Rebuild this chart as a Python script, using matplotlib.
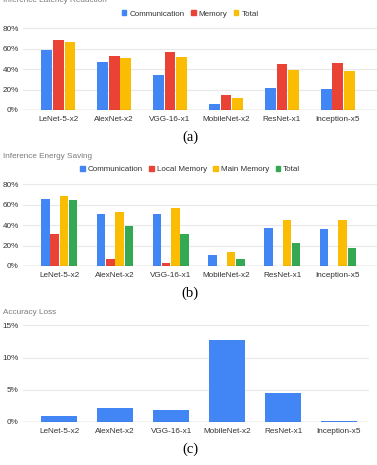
import matplotlib
matplotlib.use("Agg")
import matplotlib.pyplot as plt
import numpy as np

# ---------------------------------------------------------------------------
# Data
# ---------------------------------------------------------------------------
MODELS = ["LeNet-5-x2", "AlexNet-x2", "VGG-16-x1", "MobileNet-x2", "ResNet-x1", "Inception-x5"]

LAT_COMM = [59, 47, 34, 5.5, 21.5, 20.5]
LAT_MEM = [68.5, 52.5, 57, 14.5, 45.5, 46]
LAT_TOTAL = [67, 51, 51.5, 12, 39, 38]

EN_COMM = [66, 50.5, 50.5, 11, 37, 36]
EN_LOCAL = [31.5, 7, 3, 0, 0, 0.3]
EN_MAIN = [68.5, 52.5, 57, 13.5, 45, 45.5]
EN_TOTAL = [64.5, 39.5, 31.5, 7, 22.5, 17.5]

ACC_LOSS = [0.95, 2.1, 1.9, 12.7, 4.45, 0.08]

# ---------------------------------------------------------------------------
# Style
# ---------------------------------------------------------------------------
BLUE = "#4285F4"
RED = "#EA4335"
YELLOW = "#FBBC04"
GREEN = "#34A853"
GRID = "#e8e8e8"
TXT = "#333333"
TITLE_C = "#7a7a7a"
FONT = "Liberation Sans"
SERIF = "Liberation Serif"
TICK_FS = 5.9

W, H = 377, 465
fig = plt.figure(figsize=(W / 100, H / 100), dpi=100, facecolor="white")


def px_axes(left, top, right, bottom):
    return fig.add_axes([left / W, 1 - bottom / H, (right - left) / W, (bottom - top) / H])


def style_ax(ax, ymax, step, xlim):
    ax.set_xlim(*xlim)
    ax.set_ylim(0, ymax * 1.005)
    for s in ax.spines.values():
        s.set_visible(False)
    ticks = np.arange(0, ymax + 0.1, step)
    ax.set_yticks(ticks)
    ax.set_yticklabels([f"{int(t)}%" for t in ticks], fontsize=TICK_FS, color=TXT, family=FONT)
    for t in ticks[1:]:
        ax.axhline(t, color=GRID, lw=0.8, zorder=0, clip_on=False)
    ax.axhline(0, color="#333333", lw=0.8, zorder=5)
    ax.set_xticks(range(len(MODELS)))
    ax.set_xticklabels(MODELS, fontsize=TICK_FS, color=TXT, family=FONT)
    ax.tick_params(length=0, pad=4)
    ax.tick_params(axis="y", pad=3)


def bars(ax, series, colors, width):
    n = len(series)
    x = np.arange(len(MODELS))
    for i, (vals, c) in enumerate(zip(series, colors)):
        off = (i - (n - 1) / 2) * width
        ax.bar(x + off, vals, width=width * 0.92, color=c, zorder=3)


def legend(labels, colors, y):
    handles = [plt.Rectangle((0, 0), 1, 1, color=c) for c in colors]
    fig.legend(handles, labels, loc="center", bbox_to_anchor=(190 / W, 1 - y / H),
               ncol=len(labels), frameon=False, handlelength=0.6,
               handleheight=0.6, handletextpad=0.35, columnspacing=0.8,
               prop={"family": FONT, "size": 5.8}, labelcolor=TXT)


# (a) latency
ax_a = px_axes(23, 28, 377, 110)
bars(ax_a, [LAT_COMM, LAT_MEM, LAT_TOTAL], [BLUE, RED, YELLOW], 0.21)
style_ax(ax_a, 80, 20, (-0.63, 5.7))
legend(["Communication", "Memory", "Total"], [BLUE, RED, YELLOW], 14)
fig.text(3 / W, 1 - 0 / H, "Inference Latency Reduction", fontsize=TICK_FS, color=TITLE_C,
         family=FONT, va="center", ha="left")
fig.text(190 / W, 1 - 137 / H, "(a)", fontsize=10.5, family=SERIF, ha="center", va="center")

# (b) energy
ax_b = px_axes(23, 184, 377, 266)
bars(ax_b, [EN_COMM, EN_LOCAL, EN_MAIN, EN_TOTAL], [BLUE, RED, YELLOW, GREEN], 0.165)
style_ax(ax_b, 80, 20, (-0.65, 5.7))
legend(["Communication", "Local Memory", "Main Memory", "Total"],
       [BLUE, RED, YELLOW, GREEN], 169.5)
fig.text(3 / W, 1 - 156 / H, "Inference Energy Saving", fontsize=TICK_FS, color=TITLE_C,
         family=FONT, va="center", ha="left")
fig.text(190 / W, 1 - 293 / H, "(b)", fontsize=10.5, family=SERIF, ha="center", va="center")

# (c) accuracy
ax_c = px_axes(23, 325, 368, 422)
ax_c.bar(np.arange(len(MODELS)), ACC_LOSS, width=0.64, color=BLUE, zorder=3)
style_ax(ax_c, 15, 5, (-0.65, 5.52))
fig.text(3 / W, 1 - 312 / H, "Accuracy Loss", fontsize=TICK_FS, color=TITLE_C,
         family=FONT, va="center", ha="left")
fig.text(190 / W, 1 - 449 / H, "(c)", fontsize=10.5, family=SERIF, ha="center", va="center")

fig.savefig("out.png", dpi=100, facecolor="white")
